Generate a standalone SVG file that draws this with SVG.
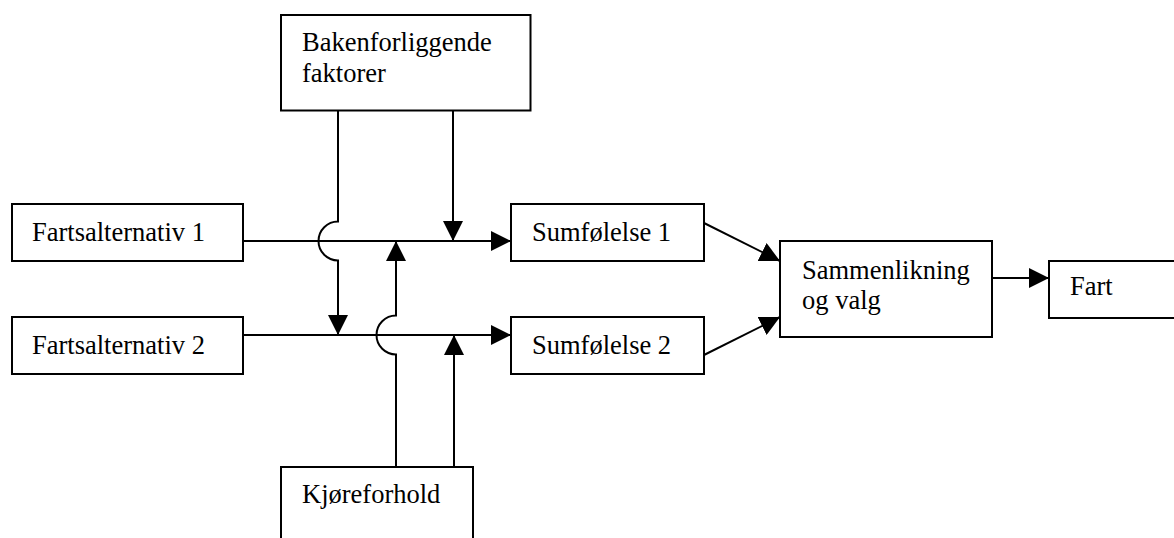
<svg xmlns="http://www.w3.org/2000/svg" width="1174" height="538" viewBox="0 0 1174 538">
<style>
.box{fill:#fff;stroke:#000;stroke-width:2}
.t{font-family:"Liberation Serif","Times New Roman",serif;font-size:26.5px;fill:#000}
.c{fill:none;stroke:#000;stroke-width:2}
</style>
<defs>
<marker id="ah" markerUnits="userSpaceOnUse" markerWidth="20" markerHeight="20" refX="20" refY="10" orient="auto" viewBox="0 0 20 20">
<path d="M0,0 L20,10 L0,20 Z" fill="#000"/>
</marker>
</defs>
<rect width="1174" height="538" fill="#fff"/>
<g id="connectors">
<path class="c" d="M243,241 H511" marker-end="url(#ah)"/>
<path class="c" d="M243,335 H511" marker-end="url(#ah)"/>
<path class="c" d="M338,111 V221.5 A19.5,19.5 0 0 0 338,260.5 V335" marker-end="url(#ah)"/>
<path class="c" d="M396,467 V354.5 A19.5,19.5 0 0 1 396,315.5 V241" marker-end="url(#ah)"/>
<path class="c" d="M453,111 V241" marker-end="url(#ah)"/>
<path class="c" d="M454,467 V335" marker-end="url(#ah)"/>
<path class="c" d="M704,223 L780,261" marker-end="url(#ah)"/>
<path class="c" d="M704,355 L780,317" marker-end="url(#ah)"/>
<path class="c" d="M992,278 H1049" marker-end="url(#ah)"/>
</g>
<g id="bakenforliggende">
<rect class="box" x="281" y="15" width="249.5" height="95.5"/>
<text class="t" x="302" y="51">Bakenforliggende</text>
<text class="t" x="302" y="82">faktorer</text>
</g>
<g id="fartsalternativ1">
<rect class="box" x="12" y="204" width="231" height="57"/>
<text class="t" x="32" y="241">Fartsalternativ 1</text>
</g>
<g id="fartsalternativ2">
<rect class="box" x="12" y="317" width="231" height="57"/>
<text class="t" x="32" y="353.5">Fartsalternativ 2</text>
</g>
<g id="sumfolelse1">
<rect class="box" x="511" y="204" width="193" height="57"/>
<text class="t" x="532" y="240.5">Sumfølelse 1</text>
</g>
<g id="sumfolelse2">
<rect class="box" x="511" y="317" width="193" height="57"/>
<text class="t" x="532" y="353.5">Sumfølelse 2</text>
</g>
<g id="sammenlikning">
<rect class="box" x="780" y="241" width="212" height="96"/>
<text class="t" x="802" y="278.5">Sammenlikning</text>
<text class="t" x="802" y="308.5">og valg</text>
</g>
<g id="fart">
<rect class="box" x="1049" y="261" width="140" height="57"/>
<text class="t" x="1070" y="295">Fart</text>
</g>
<g id="kjoreforhold">
<rect class="box" x="281" y="467" width="192" height="90"/>
<text class="t" x="302" y="502.5">Kjøreforhold</text>
</g>
</svg>
